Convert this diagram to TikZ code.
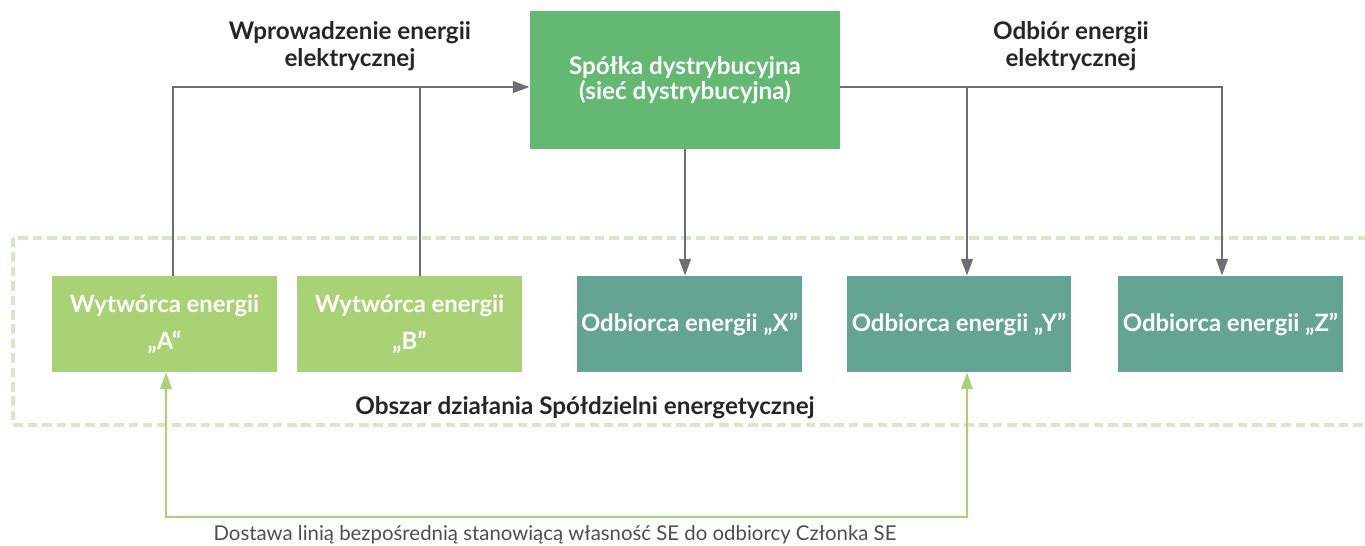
\documentclass[tikz,border=0pt]{standalone}
\usepackage{fontspec}
\setmainfont{Lato}
\usepackage{tikz}
\usetikzlibrary{arrows.meta}
\definecolor{netgreen}{HTML}{63B872}
\definecolor{gengreen}{HTML}{A9D275}
\definecolor{recteal}{HTML}{64A495}
\definecolor{linegray}{HTML}{6D6E71}
\definecolor{areagreen}{HTML}{D5EAC0}
\definecolor{notegray}{HTML}{4D4D4F}
\tikzstyle{boxnode} = [inner sep=0pt, align=center, text=white,
   font=\fontsize{13.6}{21}\selectfont\bfseries,
   minimum width=4.5cm, minimum height=1.92cm]
\tikzstyle{netbox} = [boxnode, fill=netgreen, minimum width=6.2cm,
   minimum height=2.76cm, font=\fontsize{13.8}{14.2}\selectfont\bfseries]
\tikzstyle{genbox} = [boxnode, fill=gengreen]
\tikzstyle{recbox} = [boxnode, fill=recteal]
\tikzstyle{flowlabel} = [align=center, text=black!85,
   font=\fontsize{13.8}{15.3}\selectfont\bfseries]
\tikzstyle{feed} = [draw=linegray, line width=1.5pt,
   -{Triangle[length=9.5pt,width=6.5pt]}]
\tikzstyle{direct} = [draw=gengreen, line width=1.2pt,
   {Triangle[length=9.5pt,width=6.5pt]}-{Triangle[length=9.5pt,width=6.5pt]}]
\tikzstyle{area} = [draw=areagreen, line width=1.8pt,
   dash pattern=on 5.4pt off 2.8pt]

\begin{document}
\begin{tikzpicture}[x=0.02cm, y=-0.02cm]
  \useasboundingbox (0,0) rectangle (1365,545);
  \draw [area] (13,238) rectangle (1375,425);

  \node [netbox] (sd) at (685,80) {Spółka dystrybucyjna\\(sieć dystrybucyjna)};
  \node [genbox] (wa) at (164.5,324) {Wytwórca energii\\„A“};
  \node [genbox] (wb) at (409.5,324) {Wytwórca energii\\„B”};
  \node [recbox] (ox) at (689.5,324) {Odbiorca energii „X”};
  \node [recbox] (oy) at (959,324) {Odbiorca energii „Y”};
  \node [recbox] (oz) at (1230.5,324) {Odbiorca energii „Z”};

  \node [flowlabel] (wpr) at (350,46) {Wprowadzenie energii\\elektrycznej};
  \node [flowlabel] (odb) at (1071,46) {Odbiór energii\\elektrycznej};
  \node [flowlabel] (obs) at (585,408) {Obszar działania Spółdzielni energetycznej};
  \node [text=notegray, font=\fontsize{11.6}{12}\selectfont] (dost) at (555,535)
    {Dostawa linią bezpośrednią stanowiącą własność SE do odbiorcy Członka SE};

  \coordinate (ta) at (173,87);
  \coordinate (tb) at (420,87);
  \coordinate (ty) at (967,87);
  \coordinate (tz) at (1222,87);
  \coordinate (ba) at (166,517);
  \coordinate (by) at (967,517);

  \draw [feed] (wa.north -| ta) -- (ta) -- (sd.west |- ta);
  \draw [feed, -] (wb.north -| tb) -- (tb);
  \draw [feed] (sd.south) -- (sd.south |- ox.north);
  \draw [feed] (sd.east |- ty) -- (tz) -- (oz.north -| tz);
  \draw [feed] (ty) -- (oy.north -| ty);
  \draw [direct] (wa.south -| ba) -- (ba) -- (by) -- (oy.south -| by);
\end{tikzpicture}
\end{document}
